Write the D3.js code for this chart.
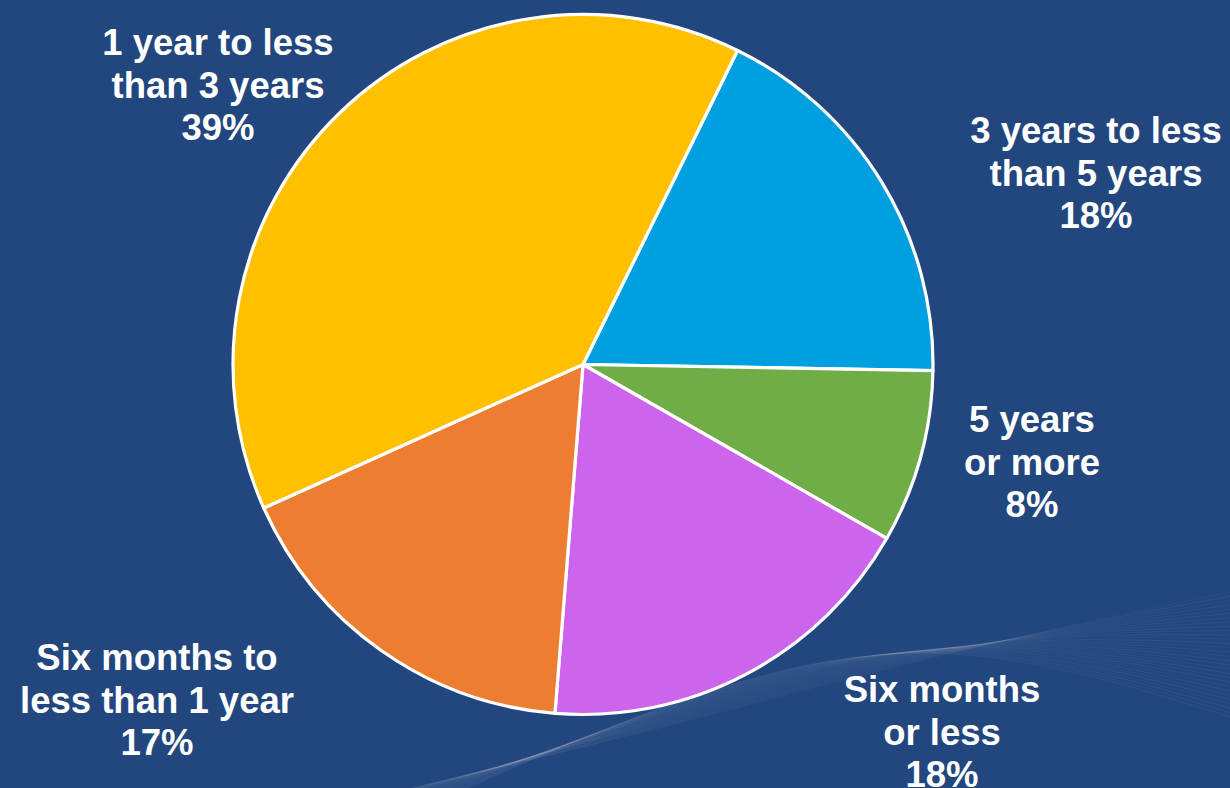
<!DOCTYPE html>
<html>
<head>
<meta charset="utf-8">
<script src="https://cdn.jsdelivr.net/npm/d3@7"></script>
<style>
  html, body { margin: 0; padding: 0; background: #22467E; overflow: hidden; }
  svg { display: block; }
</style>
</head>
<body>
<svg id="chart" width="1230" height="788"></svg>
<script>
// ---- data ----
const categories = [
  "3 years to less than 5 years",
  "5 years or more",
  "Six months or less",
  "Six months to less than 1 year",
  "1 year to less than 3 years"
];
const labelLines = [
  ["3 years to less", "than 5 years"],
  ["5 years", "or more"],
  ["Six months", "or less"],
  ["Six months to", "less than 1 year"],
  ["1 year to less", "than 3 years"]
];
const values = [18, 8, 18, 17, 39];
const colors = ["#00A0E0", "#70AD47", "#CD65EC", "#ED7D31", "#FFC000"];

// ---- layout ----
const W = 1230, H = 788;
const cx = 583, cy = 364.5, R = 350;
const startDeg = 26.2;
// label anchor: [center x, first baseline y]
const labelPos = [[1096, 143], [1032, 432], [942, 702], [157, 670], [218, 55]];
const fontSize = 36.5, lineGap = 42.5;

const svg = d3.select("#chart");

// subtle background waves (bottom right)
const waves = svg.append("g");
const waveLine = d3.line().curve(d3.curveBasis);
for (let i = 0; i < 30; i++) {
  const t = i / 29;
  const pts = [
    [360 + t * 80, 800],
    [640 + t * 60, 735 - t * 50],
    [950, 650 - t * 60 + t * t * 40],
    [1240, 590 - t * 20 + t * 150]
  ];
  waves.append("path")
    .attr("d", waveLine(pts))
    .attr("fill", "none")
    .attr("stroke", "#ffffff")
    .attr("stroke-opacity", 0.03 + 0.02 * Math.abs(Math.sin(i * 1.7)))
    .attr("stroke-width", 1.2);
}

// pie
const pie = d3.pie()
  .sort(null)
  .value(d => d)
  .startAngle(startDeg * Math.PI / 180)
  .endAngle(startDeg * Math.PI / 180 + 2 * Math.PI);
const arc = d3.arc().innerRadius(0).outerRadius(R);
const arcs = pie(values);

const g = svg.append("g").attr("transform", `translate(${cx},${cy})`);
g.selectAll("path.slice")
  .data(arcs)
  .join("path")
  .attr("class", "slice")
  .attr("d", arc)
  .attr("fill", (d, i) => colors[i])
  .attr("stroke", "#ffffff")
  .attr("stroke-width", 3.2)
  .attr("stroke-linejoin", "round");

// labels
const labels = svg.append("g")
  .attr("font-family", "'Liberation Sans', Arial, sans-serif")
  .attr("font-weight", "bold")
  .attr("font-size", fontSize)
  .attr("fill", "#ffffff")
  .attr("text-anchor", "middle");

arcs.forEach((d, i) => {
  const [x, y] = labelPos[i];
  const t = labels.append("text").attr("x", x).attr("y", y);
  const lines = labelLines[i].concat([values[i] + "%"]);
  lines.forEach((ln, k) => {
    t.append("tspan").attr("x", x).attr("y", y + k * lineGap).text(ln);
  });
});
</script>
</body>
</html>
